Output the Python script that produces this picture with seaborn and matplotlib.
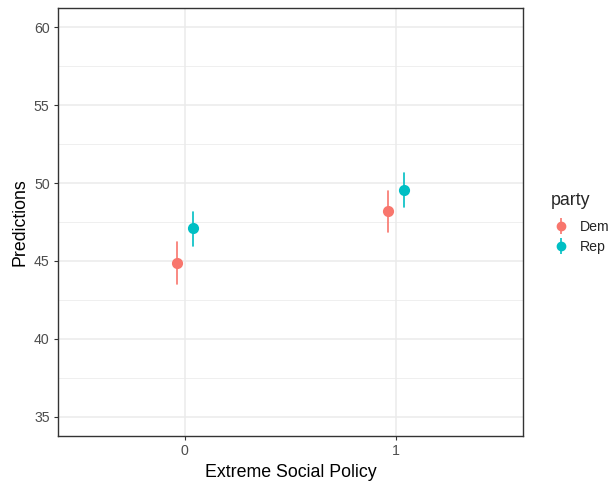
import numpy as np
import pandas as pd
import matplotlib
matplotlib.use("Agg")
import matplotlib.pyplot as plt
import seaborn as sns
from matplotlib.lines import Line2D
from matplotlib.legend_handler import HandlerTuple

# estimates
policy = ["0", "0", "1", "1"]
party = ["Dem", "Rep", "Dem", "Rep"]
pred = [44.85, 47.10, 48.18, 49.53]
lower = [43.50, 45.97, 46.86, 48.44]
upper = [46.22, 48.14, 49.49, 50.62]

colors = {"Dem": "#F8766D", "Rep": "#00BFC4"}

# three rows per group: low, mid, high -> median = estimate, full range = interval
rows = []
for p, h, m, lo, hi in zip(policy, party, pred, lower, upper):
    for v in (lo, m, hi):
        rows.append({"policy": p, "party": h, "value": v})
df = pd.DataFrame(rows)

sns.set_style("white")
plt.rcParams["font.family"] = ["Liberation Sans", "DejaVu Sans"]

fig = plt.figure(figsize=(6.11, 4.84), dpi=100)
ax = fig.add_axes([58 / 611, 1 - 436 / 484, 465 / 611, 428 / 484])

sns.pointplot(data=df, x="policy", y="value", hue="party", order=["0", "1"],
              hue_order=["Dem", "Rep"], palette=colors, estimator="median",
              errorbar=("pi", 100), dodge=0.075, linestyle="none",
              markers="o", markersize=6, err_kws={"linewidth": 1.2},
              legend=False, ax=ax)

ax.set_xlim(-0.6, 1.6)
ax.set_ylim(33.78, 61.22)
ax.set_yticks([35, 40, 45, 50, 55, 60])
ax.set_yticks([37.5, 42.5, 47.5, 52.5, 57.5], minor=True)
ax.grid(True, which="major", color="#EBEBEB", linewidth=1.1, zorder=0)
ax.grid(True, which="minor", axis="y", color="#EBEBEB", linewidth=0.55, zorder=0)
ax.set_axisbelow(True)
for s in ax.spines.values():
    s.set_color("#333333")
    s.set_linewidth(1.0)
ax.tick_params(axis="both", which="major", length=3, width=0.8, color="#333333",
               labelcolor="#4D4D4D", labelsize=10.2, left=True, bottom=True, pad=3)
ax.tick_params(which="minor", length=0)
ax.set_xlabel("Extreme Social Policy", fontsize=12.8, color="black", labelpad=4)
ax.set_ylabel("Predictions", fontsize=12.8, color="black", labelpad=4)

handles = []
for name in ["Dem", "Rep"]:
    bar = Line2D([], [], linestyle="none", marker="|", markersize=12,
                 markeredgewidth=1.2, color=colors[name])
    dot = Line2D([], [], linestyle="none", marker="o", markersize=6,
                 color=colors[name])
    handles.append((bar, dot))
leg = fig.legend(handles, ["Dem", "Rep"], title="party",
                 handler_map={tuple: HandlerTuple(ndivide=1)},
                 loc="upper left", bbox_to_anchor=(551 / 611, 1 - 192 / 484),
                 frameon=False, fontsize=10.2, title_fontsize=12.8,
                 handlelength=1.4, handletextpad=0.63, labelspacing=0.45,
                 borderaxespad=0, borderpad=0)
leg._legend_box.align = "left"
leg._legend_box.sep += 3

fig.savefig("out.png", dpi=100)
